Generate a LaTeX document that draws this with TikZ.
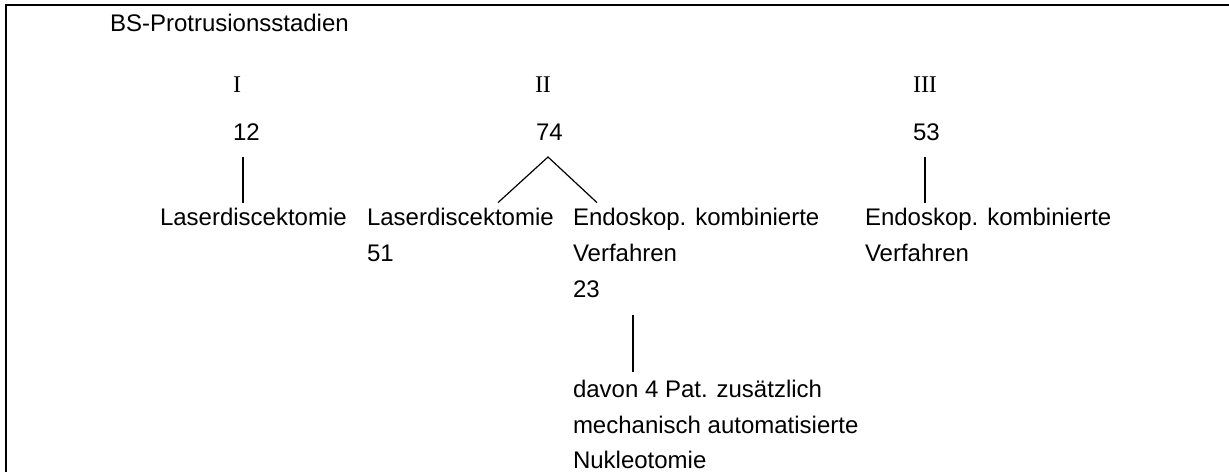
\documentclass[tikz,border=0pt]{standalone}
\usepackage{fontspec}
\setmainfont{Liberation Sans}
\newfontfamily\romfont{Liberation Serif}
\usetikzlibrary{calc}
\begin{document}
\begin{tikzpicture}[x=1pt,y=-1pt,
  txt/.style={inner sep=0pt,outer sep=0pt,anchor=base west,text height=17.4pt,text depth=5pt,font=\fontsize{24}{36}\selectfont},
  rom/.style={txt,font=\fontsize{24}{36}\selectfont\romfont},
  conn/.style={line width=1.2pt},
  frame/.style={line width=2.3pt}]
\useasboundingbox (0,0) rectangle (1229,472);
\draw[frame] (1229,5.3) -- (6,5.3) -- (6,472);

\node[txt] (title) at (110,31.5) {BS-Protrusionsstadien};
\node[rom] (r1) at (233,92) {I};
\node[rom] (r2) at (535,92) {II};
\node[rom] (r3) at (913,92) {III};

\node[txt] (n12) at (233,140) {12};
\node[txt] (n74) at (536,140) {74};
\node[txt] (n53) at (913,140) {53};

\node[txt] (ld1) at (160,225) {Laserdiscektomie};
\node[txt] (ld2) at (367,225) {Laserdiscektomie};
\node[txt] (n51) at (367,261) {51};
\node[txt] (ek1) at (573,225) {Endoskop. kombinierte};
\node[txt] (vf1) at (573,261) {Verfahren};
\node[txt] (n23) at (573,297) {23};
\node[txt] (d1) at (573,397) {davon 4 Pat. zusätzlich};
\node[txt] (d2) at (573,433) {mechanisch automatisierte};
\node[txt] (d3) at (573,468) {Nukleotomie};
\node[txt] (ek2) at (865,225) {Endoskop. kombinierte};
\node[txt] (vf2) at (865,261) {Verfahren};

\draw[conn] ($(n12.south west)+(10,12)$) -- ($(ld1.north west)+(83,-5)$);
\draw[conn] ($(ld2.north west)+(131,-5)$) -- ($(n74.south west)+(12,12)$) -- ($(ek1.north west)+(24,-5)$);
\draw[conn] ($(n53.south west)+(12,12)$) -- ($(ek2.north west)+(60,-5)$);
\draw[conn] ($(n23.south west)+(60,13)$) -- ($(d1.north west)+(60,-7.5)$);
\end{tikzpicture}
\end{document}
